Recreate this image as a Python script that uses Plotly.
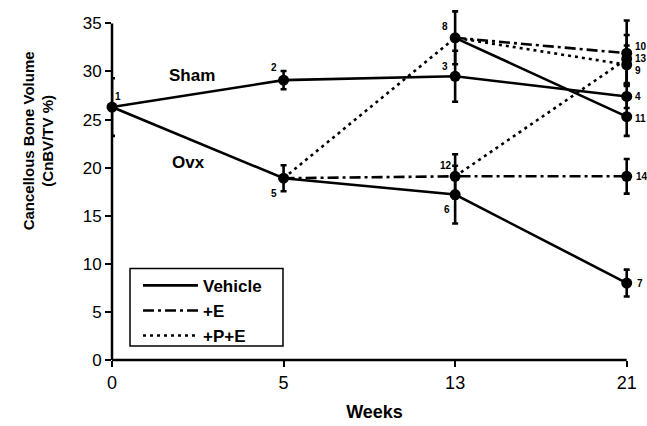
import plotly.graph_objects as go

# ---------------- data ----------------
weeks = ["0", "5", "13", "21"]
point_ids = [1, 2, 3, 4, 5, 6, 7, 8, 9, 10, 11, 12, 13, 14]
point_week = ["0", "5", "13", "21", "5", "13", "21", "13", "21", "21", "21", "13", "21", "21"]
point_value = [26.3, 29.1, 29.5, 27.4, 18.9, 17.2, 8.0, 33.5, 30.7, 31.9, 25.3, 19.1, 31.3, 19.1]
point_err = [3.0, 0.95, 2.65, 1.2, 1.35, 3.0, 1.4, 2.75, 2.0, 3.4, 2.0, 2.3, 2.5, 1.8]

vehicle_paths = [[1, 2, 3, 4], [1, 5, 6, 7], [8, 11]]
e_paths = [[5, 12, 14], [8, 10]]
pe_paths = [[5, 8, 9], [12, 13]]

series_names = ["Vehicle", "+E", "+P+E"]
group_labels = ["Sham", "Ovx"]
y_axis_max = 35

# ---------------- style ----------------
FONT = "Liberation Sans, Arial, Helvetica, sans-serif"
label_offsets = {  # (xshift, yshift, xanchor)
    1: (6, 11, "center"), 2: (-10, 13, "center"), 3: (-10, 10, "center"),
    4: (6, 0, "left"), 5: (-10, -15, "center"), 6: (-8, -15, "center"),
    7: (8, 0, "left"), 8: (-10, 11, "center"), 9: (6, -6, "left"),
    10: (6, 7, "left"), 11: (6, -2, "left"), 12: (-9, 11, "center"),
    13: (6, 0, "left"), 14: (7, 0, "left"),
}
dash_styles = {"Vehicle": "solid", "+E": "11px,4px,3px,4px", "+P+E": "3px,4px"}
group_pos = {"Sham": (0.152, 0.808), "Ovx": (0.145, 0.562)}
legend_box = dict(x0=0.0343, x1=0.3257, y0=0.0395, y1=0.2599)

lookup = {pid: (w, v) for pid, w, v in zip(point_ids, point_week, point_value)}


def path_xy(paths):
    xs, ys = [], []
    for p in paths:
        for pid in p:
            xs.append(lookup[pid][0])
            ys.append(lookup[pid][1])
        xs.append(None)
        ys.append(None)
    return xs, ys


fig = go.Figure()
for name, paths in zip(series_names, [vehicle_paths, e_paths, pe_paths]):
    xs, ys = path_xy(paths)
    fig.add_trace(go.Scatter(
        x=xs, y=ys, mode="lines", name=name, connectgaps=False,
        line=dict(color="black", width=2.6, dash=dash_styles[name]),
        cliponaxis=False,
    ))

fig.add_trace(go.Scatter(
    x=point_week, y=point_value, mode="markers", showlegend=False,
    marker=dict(color="black", size=11),
    error_y=dict(type="data", array=point_err, visible=True, color="black",
                 thickness=2.6, width=3),
    cliponaxis=False,
))

for pid, w, v in zip(point_ids, point_week, point_value):
    dx, dy, anc = label_offsets[pid]
    fig.add_annotation(x=weeks.index(w), y=v, xref="x", yref="y", text=str(pid),
                       showarrow=False, xshift=dx, yshift=dy, xanchor=anc, yanchor="middle",
                       font=dict(family=FONT, size=10, color="black", weight="bold"))

for g in group_labels:
    gx, gy = group_pos[g]
    fig.add_annotation(x=gx, y=gy, xref="paper", yref="paper", text=g, showarrow=False,
                       xanchor="center", yanchor="middle",
                       font=dict(family=FONT, size=17, color="black", weight="bold"))

fig.add_annotation(x=-0.141, y=0.624, xref="paper", yref="paper",
                   text="Cancellous Bone Volume<br>(CnBV/TV %)", showarrow=False,
                   textangle=-90, xanchor="center", yanchor="middle",
                   font=dict(family=FONT, size=15, color="black", weight="bold"))

# axis lines (drawn as shapes so they stop at the last tick, like the original)
fig.add_shape(type="line", xref="paper", yref="y", x0=0, x1=0, y0=0, y1=y_axis_max,
              line=dict(color="black", width=2.5))
fig.add_shape(type="line", xref="x", yref="paper", x0=0, x1=len(weeks) - 1, y0=0, y1=0,
              line=dict(color="black", width=2.5))
# legend frame
fig.add_shape(type="rect", xref="paper", yref="paper", **legend_box,
              line=dict(color="black", width=1.5), fillcolor="white", layer="below")

fig.update_layout(
    width=647, height=426,
    margin=dict(l=112, r=10, t=8, b=64),
    paper_bgcolor="white", plot_bgcolor="white",
    font=dict(family=FONT, color="black"),
    legend=dict(x=0.0495, y=0.262, xanchor="left", yanchor="top",
                bgcolor="rgba(0,0,0,0)", borderwidth=0,
                itemwidth=55,
                font=dict(family=FONT, size=17, color="black", weight="bold")),
    xaxis=dict(type="category", categoryorder="array", categoryarray=weeks,
               range=[0, 3.06], showgrid=False, zeroline=False, showline=False,
               ticks="outside", ticklen=6, tickwidth=2, tickcolor="black",
               tickfont=dict(family=FONT, size=18, color="black"),
               title=dict(text="Weeks", standoff=13,
                          font=dict(family=FONT, size=18, color="black", weight="bold"))),
    yaxis=dict(range=[0, 36.6], tickvals=[0, 5, 10, 15, 20, 25, 30, 35],
               showgrid=False, zeroline=False, showline=False,
               ticks="outside", ticklen=6, tickwidth=2, tickcolor="black",
               tickfont=dict(family=FONT, size=17, color="black")),
)

fig.write_html("out.html", config={"displayModeBar": False},
               post_script="document.body.style.margin='0';document.body.style.overflow='hidden';")
